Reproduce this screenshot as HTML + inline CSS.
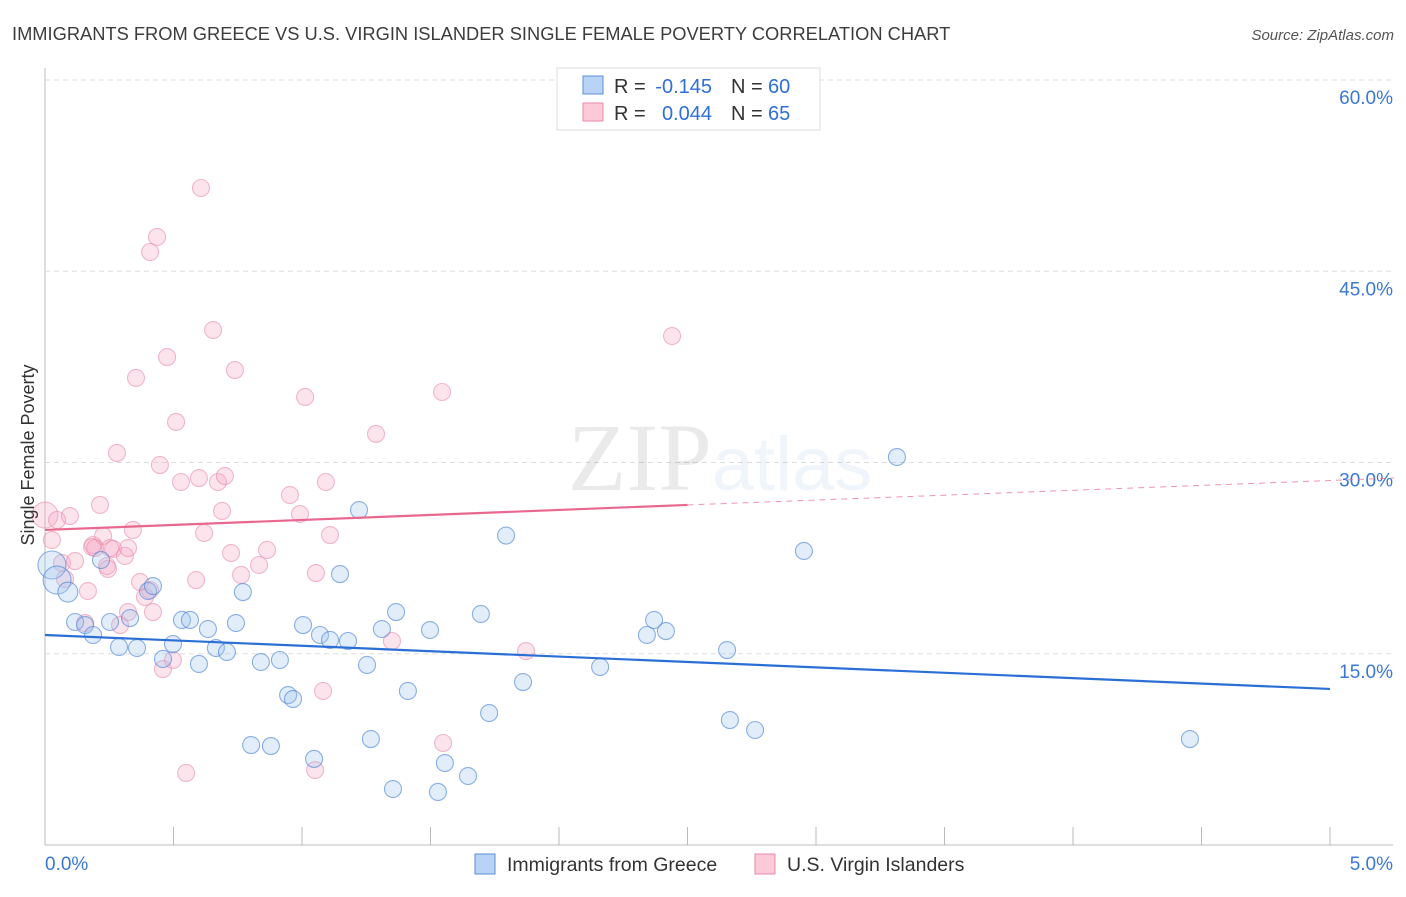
<!DOCTYPE html>
<html><head><meta charset="utf-8"><style>
body{margin:0;background:#fff;font-family:"Liberation Sans",sans-serif;}
</style></head><body>
<svg id="chart" width="1406" height="892" xmlns="http://www.w3.org/2000/svg" font-family="Liberation Sans, sans-serif">
<text x="12" y="40" font-size="18.3" fill="#3c3c3c">IMMIGRANTS FROM GREECE VS U.S. VIRGIN ISLANDER SINGLE FEMALE POVERTY CORRELATION CHART</text>
<text x="1394" y="40" font-size="15" fill="#555" text-anchor="end" font-style="italic">Source: ZipAtlas.com</text>
<g id="grid"></g>
<text x="720" y="490" font-size="96" text-anchor="middle" fill="#000" opacity="0.08" font-family="Liberation Serif, serif">ZIP<tspan fill="#4a90d9" font-family="Liberation Sans, sans-serif" font-size="76">atlas</tspan></text>
<g id="points"></g>
<g id="lines"></g>
<text transform="translate(34,455) rotate(-90)" font-size="18" fill="#333" text-anchor="middle">Single Female Poverty</text>
<g>
<rect x="557" y="68" width="263" height="62" fill="#fff" stroke="#ddd"/>
<rect x="583" y="76" width="20" height="18" fill="#b8d3f5" stroke="#5a8fd8"/>
<rect x="583" y="103" width="20" height="18" fill="#fbc9d8" stroke="#e88aa8"/>
<text x="614" y="93" font-size="20" fill="#333">R =</text>
<text x="712" y="93" font-size="20" fill="#2f6fd6" text-anchor="end">-0.145</text>
<text x="731" y="93" font-size="20" fill="#333">N =</text>
<text x="768" y="93" font-size="20" fill="#2f6fd6">60</text>
<text x="614" y="120" font-size="20" fill="#333">R =</text>
<text x="712" y="120" font-size="20" fill="#2f6fd6" text-anchor="end">0.044</text>
<text x="731" y="120" font-size="20" fill="#333">N =</text>
<text x="768" y="120" font-size="20" fill="#2f6fd6">65</text>
</g>
<g>
<rect x="475" y="854" width="20" height="20" fill="#b8d3f5" stroke="#5a8fd8"/>
<text x="507" y="871" font-size="19.5" fill="#333">Immigrants from Greece</text>
<rect x="755" y="854" width="20" height="20" fill="#fbc9d8" stroke="#e88aa8"/>
<text x="787" y="871" font-size="19.5" fill="#333">U.S. Virgin Islanders</text>
</g>
</svg>
<script>
const xTicks=[0,0.5,1,1.5,2,2.5,3,3.5,4,4.5,5];
const yTicks=[15,30,45,60];
const yTickLabels=["15.0%","30.0%","45.0%","60.0%"];
const blueX=[0.027,0.047,0.089,0.117,0.156,0.187,0.218,0.253,0.288,0.331,0.358,0.401,0.420,0.459,0.498,0.533,0.564,0.599,0.634,0.665,0.708,0.743,0.770,0.802,0.840,0.879,0.914,0.946,0.965,1.004,1.047,1.070,1.109,1.148,1.179,1.222,1.253,1.268,1.311,1.354,1.366,1.412,1.498,1.529,1.556,1.646,1.696,1.728,1.794,1.860,2.160,2.342,2.370,2.416,2.654,2.665,2.763,2.953,3.315,4.455];
const blueY=[21.96,20.78,19.84,17.49,17.25,16.47,22.35,17.49,15.53,17.80,15.45,19.92,20.31,14.59,15.76,17.65,17.65,14.20,16.94,15.45,15.14,17.41,19.84,7.84,14.35,7.76,14.51,11.76,11.45,17.25,6.75,16.47,16.08,21.25,16.00,26.27,14.12,8.31,16.94,4.39,18.27,12.08,16.86,4.16,6.43,5.41,18.12,10.35,24.27,12.78,13.96,16.47,17.65,16.78,15.29,9.80,9.02,23.06,30.43,8.31];
const pinkX=[0,0.027,0.047,0.066,0.097,0.078,0.117,0.156,0.167,0.187,0.214,0.226,0.241,0.265,0.280,0.292,0.311,0.323,0.342,0.354,0.370,0.389,0.409,0.420,0.436,0.409,0.459,0.475,0.498,0.510,0.529,0.549,0.588,0.599,0.607,0.619,0.654,0.673,0.689,0.700,0.724,0.739,0.763,0.833,0.864,0.953,0.992,1.012,1.051,1.054,1.082,1.093,1.109,1.288,1.350,1.545,1.549,1.872,2.440,0.447,0.323,0.183,0.195,0.245,0.253];
const pinkY=[25.88,23.92,25.49,22.12,25.80,20.86,22.27,17.41,19.92,23.53,26.67,24.24,21.88,23.22,30.75,17.25,22.67,18.27,24.71,36.63,20.63,19.45,20.00,18.27,47.69,46.51,13.80,38.27,14.51,33.18,28.47,5.65,20.78,28.78,51.53,24.47,40.39,28.47,26.20,28.94,22.90,37.25,21.18,21.96,23.14,27.45,25.96,35.14,5.88,21.33,12.08,28.47,24.31,32.24,16.00,35.53,8.00,15.21,39.92,29.80,23.29,23.37,23.29,21.65,23.29];
const blueLine=[[0,16.47],[5,12.24]];
const pinkLine=[[0,24.71],[2.5,26.67],[5.25,28.78]];
const X0=45,X1=1330,Y0=845;
function sx(v){return X0+(X1-X0)*v/5;}
function sy(v){return Y0-v*12.75;}
const NS="http://www.w3.org/2000/svg";
function mk(tag,attrs,parent){const e=document.createElementNS(NS,tag);for(const k in attrs)e.setAttribute(k,attrs[k]);parent.appendChild(e);return e;}
const grid=document.getElementById('grid');
const ax=mk('line',{x1:X0,y1:68,x2:X0,y2:Y0,stroke:'#bbb'},grid);


const bx=mk('line',{x1:X0,y1:Y0,x2:1393,y2:Y0,stroke:'#bbb'},grid);


yTicks.forEach((t,i)=>{
 const g=mk('line',{x1:X0,y1:sy(t),x2:1393,y2:sy(t),stroke:'#ddd','stroke-dasharray':'5,4'},grid);
 
 
 const l=mk('text',{x:1393,y:sy(t)+24,'font-size':19,fill:'#3a78d4','text-anchor':'end'},grid);
 l.textContent=yTickLabels[i];
 
 
});
xTicks.forEach(t=>{
 const k=mk('line',{x1:sx(t),y1:Y0-18,x2:sx(t),y2:Y0,stroke:'#bbb'},grid);
 
 
});
const xl0=mk('text',{x:45,y:870,'font-size':19,fill:'#3a78d4'},grid);xl0.textContent='0.0%';


const xl1=mk('text',{x:1393,y:870,'font-size':19,fill:'#3a78d4','text-anchor':'end'},grid);xl1.textContent='5.0%';


const pts=document.getElementById('points');
pinkX.forEach((v,i)=>{
 const c=mk('circle',{cx:sx(v),cy:sy(pinkY[i]),r:i==0?13:8.5,fill:'rgba(245,165,195,0.3)',stroke:'rgba(232,140,170,0.6)','stroke-width':1.1},pts);
 
 
});
blueX.forEach((v,i)=>{
 const c=mk('circle',{cx:sx(v),cy:sy(blueY[i]),r:i<2?14:(i==2?10:8.5),fill:'rgba(160,195,240,0.3)',stroke:'rgba(80,135,215,0.65)','stroke-width':1.1},pts);
 
 
});
const ln=document.getElementById('lines');
const b=mk('line',{x1:sx(blueLine[0][0]),y1:sy(blueLine[0][1]),x2:sx(blueLine[1][0]),y2:sy(blueLine[1][1]),stroke:'#2a6fd6','stroke-width':2.2},ln);


const p=mk('line',{x1:sx(pinkLine[0][0]),y1:sy(pinkLine[0][1]),x2:sx(pinkLine[1][0]),y2:sy(pinkLine[1][1]),stroke:'#e8688f','stroke-width':2.2},ln);


const pd=mk('line',{x1:sx(pinkLine[1][0]),y1:sy(pinkLine[1][1]),x2:sx(pinkLine[2][0]),y2:sy(pinkLine[2][1]),stroke:'#e8688f','stroke-width':1,'stroke-dasharray':'6,5',opacity:0.7},ln);


</script>
</body></html>
